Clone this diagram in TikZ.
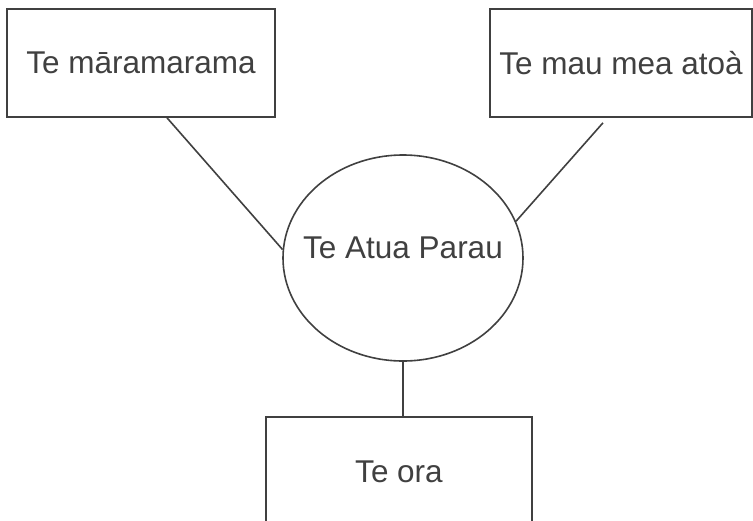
\documentclass[tikz,border=0pt]{standalone}
\usepackage{fontspec}
\setmainfont{Liberation Sans}
\usepackage{tikz}
\usetikzlibrary{shapes.geometric}

\begin{document}
\begin{tikzpicture}[
		x=1pt, y=-1pt,
		every node/.style={draw=black!75, line width=1.6pt, text=black!75, font=\fontsize{31.5}{36}\selectfont},
		topicbox/.style={rectangle, minimum height=108pt},
		godring/.style={ellipse, minimum width=240pt, minimum height=206pt, inner xsep=-20pt, inner ysep=0pt}
	]
  \useasboundingbox (0,0) rectangle (753,520);
  \node (marama) [topicbox, minimum width=268pt] at (141, 63) {Te māramarama};
  \node (mea) [topicbox, minimum width=262pt] at (621, 63) {Te mau mea atoà};
  \node (atua) [godring, text height=22.5pt, text depth=21pt] at (403, 258) {Te Atua Parau};
  \node (ora) [topicbox, minimum width=266pt, minimum height=110pt] at (399, 472) {Te ora};
  \draw[draw=black!75, line width=1.6pt] ([xshift=26pt]marama.south) edge (atua.176);
  \draw[draw=black!75, line width=1.6pt] ([xshift=-18pt, yshift=-5pt]mea.south) edge (atua.18);
  \draw[draw=black!75, line width=1.6pt] (atua.south) edge (atua.south |- ora.north);
\end{tikzpicture}
\end{document}
